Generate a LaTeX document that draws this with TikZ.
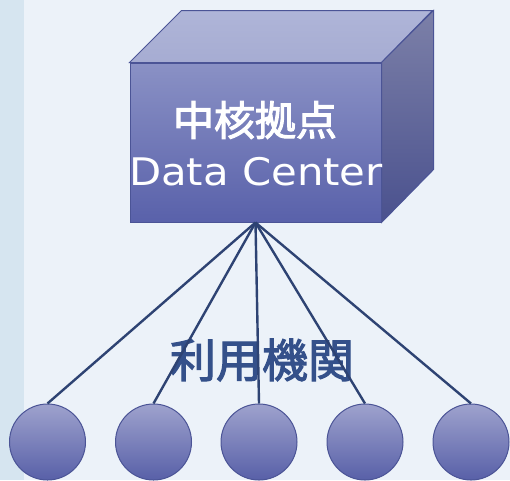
\documentclass[tikz,border=0pt]{standalone}
\usepackage{fontspec}
\setmainfont{Noto Sans CJK JP}
\newfontfamily\cjkmid{Noto Sans CJK JP}[FakeBold=2.5]
\newfontfamily\latinfont{DejaVu Sans}
\usetikzlibrary{positioning}

\definecolor{bgmain}{HTML}{ECF2F9}
\definecolor{bgstrip}{HTML}{D6E5F0}
\definecolor{edgeblue}{HTML}{4B5496}
\definecolor{linkblue}{HTML}{2E4373}
\definecolor{labelblue}{HTML}{34508A}
\definecolor{frontTop}{HTML}{8A91C5}
\definecolor{frontBot}{HTML}{5961AA}
\definecolor{roofTop}{HTML}{AFB5D8}
\definecolor{roofBot}{HTML}{A6ACD2}
\definecolor{sideTop}{HTML}{7C80A8}
\definecolor{sideBot}{HTML}{4A518E}
\definecolor{siteTop}{HTML}{9EA2CD}
\definecolor{siteBot}{HTML}{5860A8}

\tikzset{
  face/.style={draw=edgeblue, line width=1pt},
  site/.style={circle, draw=edgeblue, line width=1pt, minimum size=76pt, inner sep=0pt,
    top color=siteTop, bottom color=siteBot},
  link/.style={draw=linkblue, line width=2.4pt}
}

\begin{document}
\begin{tikzpicture}[x=1pt,y=-1pt]
\useasboundingbox (0,0) rectangle (510,480);
\fill[bgmain] (0,0) rectangle (510,480);
\fill[bgstrip] (0,0) rectangle (24,480);

% data center box
\node (dc) [face, rectangle, minimum width=251pt, minimum height=159pt, inner sep=0pt,
  top color=frontTop, bottom color=frontBot] at (255.5,142.5) {};
\draw[face, top color=roofTop, bottom color=roofBot]
  (dc.north west) -- ++(52,-52) -- ++(251,0) -- (dc.north east) -- cycle;
\draw[face, top color=sideTop, bottom color=sideBot]
  (dc.north east) -- ++(52,-52) -- ++(0,159) -- (dc.south east) -- cycle;

\node (core) [text=white, font=\cjkmid\fontsize{41}{41}\selectfont] at (255,120) {中核拠点};
\node (dcname) [text=white, font=\latinfont\fontsize{38}{38}\selectfont] at (256,171.5)
  {\scalebox{1.1}[1]{Data Center}};

\node (users) [text=labelblue, font=\cjkmid\fontsize{46}{46}\selectfont] at (262,360) {利用機関};

\node (org1) [site] at (47.5,442) {};
\node (org2) [site] at (153.5,442) {};
\node (org3) [site] at (259,442) {};
\node (org4) [site] at (365,442) {};
\node (org5) [site] at (471,442) {};

\draw[link] (dc.south) -- (org1.north);
\draw[link] (dc.south) -- (org2.north);
\draw[link] (dc.south) -- (org3.north);
\draw[link] (dc.south) -- (org4.north);
\draw[link] (dc.south) -- (org5.north);

\end{tikzpicture}
\end{document}
